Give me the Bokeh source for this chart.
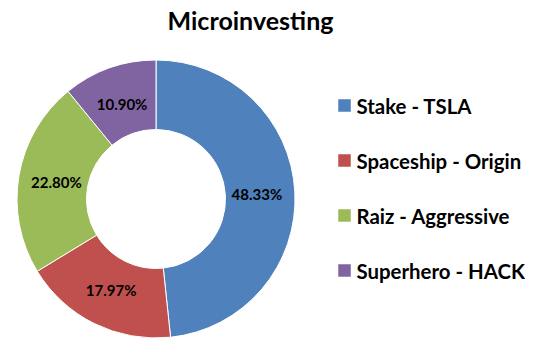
import numpy as np
from bokeh.plotting import figure
from bokeh.models import ColumnDataSource, Range1d, Label
from bokeh.core.properties import value
from bokeh.embed import file_html
from bokeh.resources import INLINE

# ---- data ----
title_text = "Microinvesting"
categories = ["Stake - TSLA", "Spaceship - Origin", "Raiz - Aggressive", "Superhero - HACK"]
shares = [48.33, 17.97, 22.80, 10.90]
colors = ["#4F81BD", "#C0504D", "#9BBB59", "#8064A2"]
label_texts = ["48.33%", "17.97%", "22.80%", "10.90%"]

W, H = 543, 353
FONT = "Lato"

p = figure(width=W, height=H, output_backend="svg", toolbar_location=None,
           x_range=Range1d(0, W), y_range=Range1d(0, H), min_border=0)
p.axis.visible = False
p.grid.visible = False
p.outline_line_color = None
p.background_fill_color = "white"
p.border_fill_color = "white"

# ---- donut geometry ----
cx, cy = 155.5, H - 198.5
r_out, r_in = 139, 69.5

vals = np.array(shares, dtype=float)
frac = vals / vals.sum()
cum = np.concatenate([[0], np.cumsum(frac)])
start = np.pi / 2 - cum[:-1] * 2 * np.pi
end = np.pi / 2 - cum[1:] * 2 * np.pi
mid = (start + end) / 2
r_lab = 101

src = ColumnDataSource(dict(
    start=start, end=end, color=colors, cat=categories,
    lx=cx + r_lab * np.cos(mid), ly=cy + r_lab * np.sin(mid), lt=label_texts,
))

p.annular_wedge(x=cx, y=cy, inner_radius=r_in, outer_radius=r_out,
                start_angle="start", end_angle="end", direction="clock",
                fill_color="color", line_color="white", line_width=1, source=src)

p.text(x="lx", y="ly", text="lt", source=src, text_align="center",
       text_baseline="middle", text_font=value(FONT), text_font_style="bold",
       text_font_size="15px", text_color="black")

# ---- legend (manual) ----
n = len(categories)
leg_top = H - 105
leg_step = 55
leg_y = [leg_top - i * leg_step for i in range(n)]
leg_src = ColumnDataSource(dict(
    x=[344] * n, y=leg_y, color=colors, cat=categories,
    tx=[356] * n,
))
p.scatter(x="x", y="y", marker="square", size=12.5, fill_color="color",
          line_color=None, source=leg_src)
p.text(x="tx", y="y", text="cat", source=leg_src, text_align="left",
       text_baseline="middle", text_font=value(FONT), text_font_style="bold",
       text_font_size="20.4px", text_color="black")

# ---- title ----
p.add_layout(Label(x=250, y=H - 19, text=title_text, text_align="center",
                   text_baseline="middle", text_font=FONT, text_font_style="bold",
                   text_font_size="25px", text_color="black"))

open("out.html", "w").write(file_html(p, INLINE))
